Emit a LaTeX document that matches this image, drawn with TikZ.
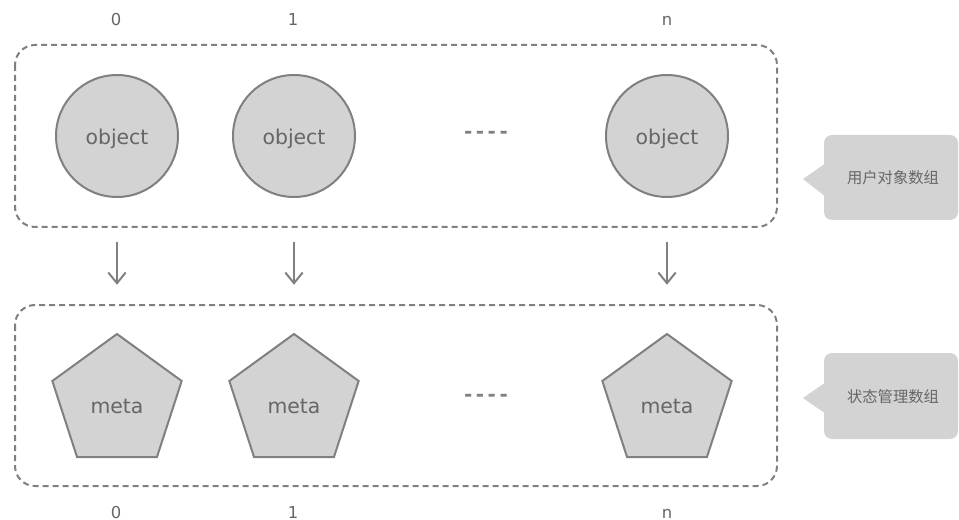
\documentclass[tikz,border=0pt]{standalone}
\usepackage{fontspec}
\setmainfont{DejaVu Sans}
\newfontfamily\cjk{Noto Sans CJK SC}
\usetikzlibrary{shapes.geometric,arrows.meta}
\definecolor{stk}{HTML}{808080}
\definecolor{fil}{HTML}{D3D3D3}
\definecolor{txt}{HTML}{666666}
\newcommand{\lowr}[2]{\raisebox{-#1}[\height][\depth]{#2}}
\begin{document}
\begin{tikzpicture}[x=0.75pt,y=-0.75pt,
  obj/.style={circle, draw=stk, fill=fil, line width=1.5pt, minimum size=91.5pt, inner sep=0pt, text=txt, font=\fontsize{15.3}{18}\selectfont},
  metashape/.style={regular polygon, regular polygon sides=5, draw=stk, fill=fil, line width=1.5pt, minimum size=102pt, inner sep=0pt, text=txt, font=\fontsize{15.3}{18}\selectfont},
  grp/.style={draw=stk, line width=1.5pt, dash pattern=on 4.5pt off 3pt, rounded corners=15pt},
  idx/.style={text=txt, font=\fontsize{12.3}{14}\selectfont, anchor=base, inner sep=0pt},
  arr/.style={draw=stk, line width=1.5pt, -{Straight Barb[length=8pt,width=13pt]}},
  ellip/.style={text=stk, font=\bfseries\fontsize{15}{17}\selectfont, inner sep=0pt},
  calltxt/.style={text=txt, font=\cjk\fontsize{11.5}{14}\selectfont, inner sep=0pt}
]
\useasboundingbox (0,0) rectangle (959,520);

% group boxes
\draw[grp] (15,45) rectangle (777,227);
\draw[grp] (15,305) rectangle (777,486);

% objects
\node[obj] (o0) at (117,136) {\lowr{2.5pt}{object}};
\node[obj] (o1) at (294,136) {\lowr{2.5pt}{object}};
\node[obj] (on) at (667,136) {\lowr{2.5pt}{object}};
\node[ellip] (d1) at (486,135) {-\kern2.6pt-\kern2.6pt-\kern2.6pt-};

% metas
\node[metashape] (p0) at (117,402) {\lowr{3.5pt}{meta}};
\node[metashape] (p1) at (294,402) {\lowr{3.5pt}{meta}};
\node[metashape] (pn) at (667,402) {\lowr{3.5pt}{meta}};
\node[ellip] (d2) at (486,398) {-\kern2.6pt-\kern2.6pt-\kern2.6pt-};

% indices
\node[idx] (t0) at (116,26) {0};
\node[idx] (t1) at (293,26) {1};
\node[idx] (tn) at (667,26) {n};
\node[idx] (b0) at (116,518) {0};
\node[idx] (b1) at (293,518) {1};
\node[idx] (bn) at (667,518) {n};

% arrows
\draw[arr, shorten <=33pt, shorten >=36pt] (o0) -- (p0);
\draw[arr, shorten <=33pt, shorten >=36pt] (o1) -- (p1);
\draw[arr, shorten <=33pt, shorten >=36pt] (on) -- (pn);

% callouts
\fill[fil, rounded corners=6pt] (824,135) rectangle (958,220);
\fill[fil] (803,179) -- (826,163) -- (826,197) -- cycle;
\node[calltxt] (c1) at (893,178) {用户对象数组};

\fill[fil, rounded corners=6pt] (824,353) rectangle (958,439);
\fill[fil] (803,398) -- (826,382) -- (826,414) -- cycle;
\node[calltxt] (c2) at (893,397) {状态管理数组};
\end{tikzpicture}
\end{document}
